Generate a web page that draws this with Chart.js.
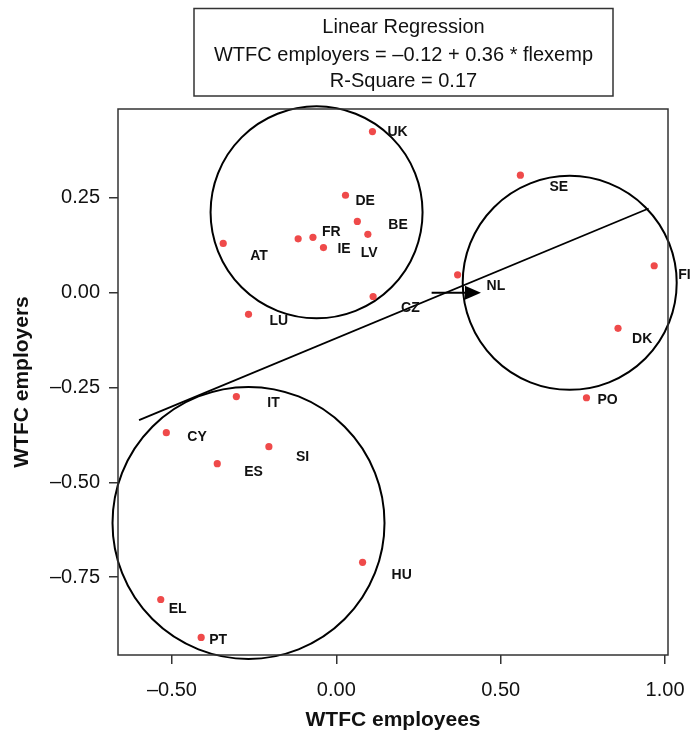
<!DOCTYPE html>
<html>
<head>
<meta charset="utf-8">
<script src="https://cdn.jsdelivr.net/npm/chart.js@4/dist/chart.umd.min.js"></script>
<style>
    body { margin: 0; background: #fff; }
    #wrap { width: 690px; height: 735px; }
</style>
</head>
<body>
<div id="wrap"><canvas id="chart" width="690" height="735"></canvas></div>
<script>
// Country scores (x = WTFC employees, y = WTFC employers)
const countries = ['UK', 'DE', 'BE', 'LV', 'FR', '', 'IE', 'AT', 'CZ', 'LU', 'SE',
    'NL', 'FI', 'DK', 'PO', 'IT', 'CY', 'SI', 'ES', 'HU', 'EL', 'PT'];
const employeesX = [0.110, 0.028, 0.064, 0.096, -0.071, -0.116, -0.039, -0.344, 0.112, -0.267, 0.560,
    0.369, 0.967, 0.857, 0.761, -0.304, -0.517, -0.205, -0.362, 0.080, -0.534, -0.411];
const employersY = [0.425, 0.257, 0.188, 0.154, 0.146, 0.142, 0.119, 0.130, -0.010, -0.057, 0.310,
    0.047, 0.071, -0.094, -0.277, -0.274, -0.369, -0.406, -0.451, -0.711, -0.809, -0.909];

// Fitted regression line end points
const regressionX = [-0.60, 0.95];
const regressionY = [-0.336, 0.222];

// Cluster circle centres
const clusterX = [-0.060, 0.710, -0.267];
const clusterY = [0.212, 0.026, -0.607];

// Arrow pointing at NL
const arrowX = [0.29, 0.44];
const arrowY = [0.0, 0.0];

// Axis ticks
const xTicks = [-0.5, 0, 0.5, 1.0];
const yTicks = [-0.75, -0.5, -0.25, 0, 0.25];

const titleLines = ['Linear Regression', 'WTFC employers = \u20130.12 + 0.36 * flexemp', 'R-Square = 0.17'];

// styling
const FONT = "'Liberation Sans', Arial, Helvetica, sans-serif";
const circleRadiusPx = [106, 107, 136];
// label offsets (px) from each point: left edge, vertical centre
const labelOffsets = [[15, 1], [10, 6], [31, 4], [-7, 19], [9, -5], [0, 0], [14, 2], [27, 13], [28, 12], [21, 7], [29, 12],
    [29, 11], [24, 9], [14, 11], [11, 2], [31, 7], [21, 5], [27, 10], [27, 8], [29, 13], [8, 10], [8, 3]];

function fmtTick(v) {
    const s = Math.abs(v).toFixed(2);
    return v < 0 ? '\u2013' + s : s;
}

const frameAndLabels = {
    id: 'frameAndLabels',
    afterDatasetsDraw(chart) {
        const ctx = chart.ctx;
        const xs = chart.scales.x, ys = chart.scales.y;
        const area = chart.chartArea;

        // plot frame
        ctx.save();
        ctx.strokeStyle = '#333';
        ctx.lineWidth = 1.5;
        ctx.strokeRect(area.left, area.top, area.right - area.left, area.bottom - area.top);

        // arrow
        const ax0 = xs.getPixelForValue(arrowX[0]), ay0 = ys.getPixelForValue(arrowY[0]);
        const ax1 = xs.getPixelForValue(arrowX[1]), ay1 = ys.getPixelForValue(arrowY[1]);
        ctx.strokeStyle = '#000';
        ctx.fillStyle = '#000';
        ctx.lineWidth = 2;
        ctx.beginPath();
        ctx.moveTo(ax0, ay0);
        ctx.lineTo(ax1 - 14, ay1);
        ctx.stroke();
        ctx.beginPath();
        ctx.moveTo(ax1, ay1);
        ctx.lineTo(ax1 - 16, ay1 - 7);
        ctx.lineTo(ax1 - 16, ay1 + 7);
        ctx.closePath();
        ctx.fill();

        // country labels
        const meta = chart.getDatasetMeta(2);
        ctx.font = 'bold 14px ' + FONT;
        ctx.fillStyle = '#111';
        ctx.textAlign = 'left';
        ctx.textBaseline = 'middle';
        meta.data.forEach((pt, i) => {
            if (!countries[i]) return;
            ctx.fillText(countries[i], pt.x + labelOffsets[i][0], pt.y + labelOffsets[i][1]);
        });

        // title box
        ctx.strokeStyle = '#333';
        ctx.lineWidth = 1.5;
        ctx.strokeRect(194, 8.5, 419, 87.5);
        ctx.font = '20px ' + FONT;
        ctx.fillStyle = '#111';
        ctx.textAlign = 'center';
        ctx.textBaseline = 'alphabetic';
        const baselines = [33, 61, 87];
        titleLines.forEach((t, i) => ctx.fillText(t, 403.5, baselines[i]));
        ctx.restore();
    }
};

const ctx = document.getElementById('chart').getContext('2d');
new Chart(ctx, {
    type: 'scatter',
    data: {
        datasets: [
            {
                label: 'clusters',
                data: clusterX.map((x, i) => ({ x: x, y: clusterY[i] })),
                pointRadius: circleRadiusPx,
                pointHoverRadius: circleRadiusPx,
                pointStyle: 'circle',
                backgroundColor: 'rgba(0,0,0,0)',
                borderColor: '#000',
                borderWidth: 2,
                clip: false,
                order: 3
            },
            {
                label: 'regression',
                data: regressionX.map((x, i) => ({ x: x, y: regressionY[i] })),
                showLine: true,
                borderColor: '#000',
                borderWidth: 1.8,
                pointRadius: 0,
                fill: false,
                order: 2
            },
            {
                label: 'countries',
                data: employeesX.map((x, i) => ({ x: x, y: employersY[i] })),
                pointRadius: 3.6,
                backgroundColor: '#ef4a4a',
                borderWidth: 0,
                order: 1
            }
        ]
    },
    options: {
        responsive: false,
        animation: false,
        layout: { autoPadding: false, padding: { top: 109, right: 22, left: 0, bottom: 0 } },
        plugins: {
            legend: { display: false },
            tooltip: { enabled: false }
        },
        scales: {
            x: {
                type: 'linear',
                min: -0.664,
                max: 1.009,
                afterBuildTicks: (scale) => { scale.ticks = xTicks.map(v => ({ value: v })); },
                afterFit: (scale) => {
                    scale.height = 80;
                    scale.paddingLeft = 0;
                    scale.paddingRight = 0;
                },
                grid: { drawOnChartArea: false, drawTicks: true, tickLength: 9, color: '#333', lineWidth: 1.5 },
                border: { display: false },
                ticks: {
                    padding: 14,
                    maxRotation: 0,
                    color: '#111',
                    font: { family: FONT, size: 20 },
                    callback: (v) => fmtTick(v)
                },
                title: {
                    display: true,
                    text: 'WTFC employees',
                    color: '#111',
                    font: { family: FONT, size: 21, weight: 'bold' },
                    padding: { top: 0, bottom: 2 }
                }
            },
            y: {
                type: 'linear',
                min: -0.9554,
                max: 0.4844,
                afterBuildTicks: (scale) => { scale.ticks = yTicks.map(v => ({ value: v })); },
                afterFit: (scale) => {
                    scale.width = 118;
                    scale.paddingTop = 0;
                    scale.paddingBottom = 0;
                },
                grid: { drawOnChartArea: false, drawTicks: true, tickLength: 9, color: '#333', lineWidth: 1.5 },
                border: { display: false },
                ticks: {
                    padding: 9,
                    color: '#111',
                    font: { family: FONT, size: 20 },
                    callback: (v) => fmtTick(v)
                },
                title: {
                    display: true,
                    text: 'WTFC employers',
                    color: '#111',
                    font: { family: FONT, size: 21, weight: 'bold' },
                    padding: { top: 10, bottom: 0 }
                }
            }
        }
    },
    plugins: [frameAndLabels]
});
</script>
</body>
</html>
